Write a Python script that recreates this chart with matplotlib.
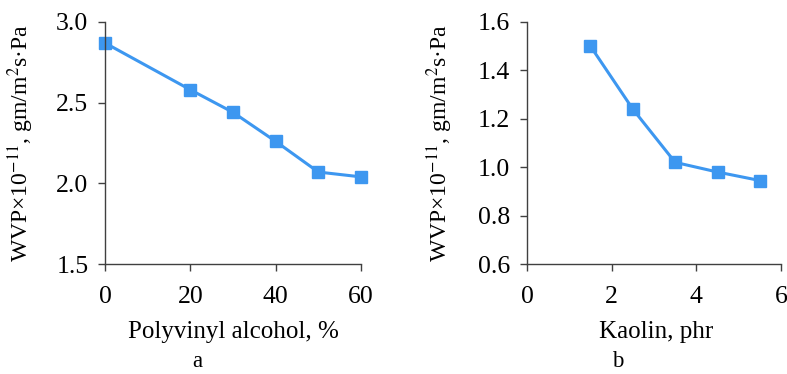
import matplotlib
matplotlib.use('Agg')
import matplotlib.pyplot as plt

pva = [0, 20, 30, 40, 50, 60]
wvp_pva = [2.87, 2.58, 2.44, 2.26, 2.07, 2.04]

kaolin = [1.5, 2.5, 3.5, 4.5, 5.5]
wvp_kaolin = [1.50, 1.24, 1.02, 0.98, 0.945]

plt.rcParams['font.family'] = ['Liberation Serif', 'DejaVu Serif']
plt.rcParams['mathtext.fontset'] = 'stix'

blue = '#3d97f0'
ylab = 'WVP×10$^{-11}$, gm/m$^{2}$s·Pa'

fig = plt.figure(figsize=(7.87, 3.74), dpi=100)
ax1 = fig.add_axes([0.1334, 0.2941, 0.3253, 0.6471])
ax2 = fig.add_axes([0.6696, 0.2941, 0.3228, 0.6471])

ax1.plot(pva, wvp_pva, color=blue, lw=2.2, marker='s', ms=9)
ax1.set_xlim(0, 60)
ax1.set_ylim(1.5, 3.0)
ax1.set_xticks([0, 20, 40, 60])
ax1.set_yticks([1.5, 2.0, 2.5, 3.0])
ax1.set_yticklabels(['1.5', '2.0', '2.5', '3.0'])
ax1.set_xlabel('Polyvinyl alcohol, %', fontsize=18)
ax1.xaxis.set_label_coords(0.5, -0.235)
ax1.yaxis.set_label_coords(-0.27, 0.51)

ax2.plot(kaolin, wvp_kaolin, color=blue, lw=2.2, marker='s', ms=9)
ax2.set_xlim(0, 6)
ax2.set_ylim(0.6, 1.6)
ax2.set_xticks([0, 2, 4, 6])
ax2.set_yticks([0.6, 0.8, 1.0, 1.2, 1.4, 1.6])
ax2.set_yticklabels(['0.6', '0.8', '1.0', '1.2', '1.4', '1.6'])
ax2.set_xlabel('Kaolin, phr', fontsize=18)
ax2.xaxis.set_label_coords(0.51, -0.235)
ax2.yaxis.set_label_coords(-0.285, 0.51)

for ax in (ax1, ax2):
    ax.spines['top'].set_visible(False)
    ax.spines['right'].set_visible(False)
    for s in ('left', 'bottom'):
        ax.spines[s].set_color('#404040')
        ax.spines[s].set_linewidth(1.0)
    ax.tick_params(direction='out', length=5, width=1, colors='#404040',
                   labelcolor='black', labelsize=18.5)
    ax.tick_params(axis='x', pad=11)
    ax.tick_params(axis='y', pad=7)
    ax.set_ylabel(ylab, fontsize=17)
    for line in ax.get_lines():
        line.set_clip_on(False)

# panel letters under each plot
fig.text(197 / 787, 1 - 367 / 374, 'a', fontsize=16.5, ha='center', va='baseline')
fig.text(618 / 787, 1 - 367 / 374, 'b', fontsize=16.5, ha='center', va='baseline')

fig.savefig('out.png', dpi=100)
